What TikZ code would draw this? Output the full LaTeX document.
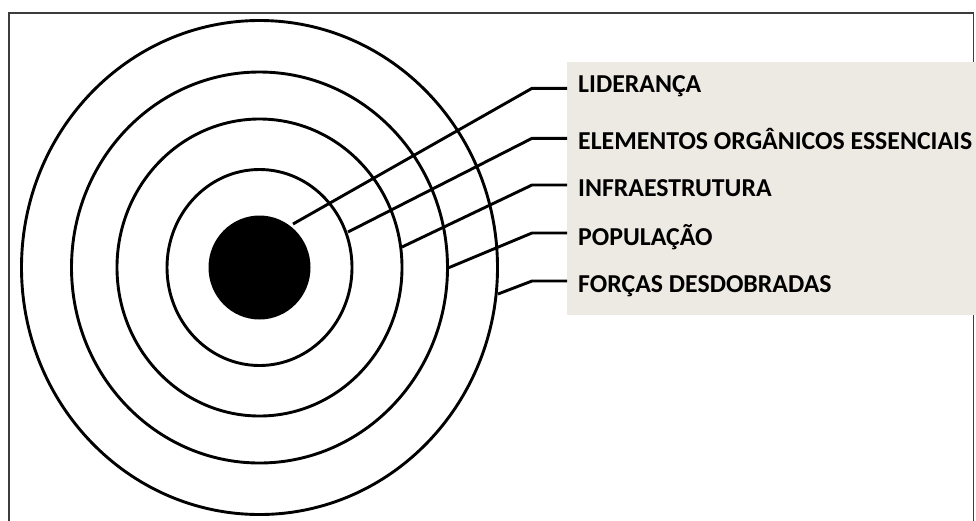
\documentclass[tikz,border=0pt]{standalone}
\usepackage{fontspec}
\setmainfont{Carlito}
\usetikzlibrary{shapes.geometric}
\definecolor{boxgray}{RGB}{236,234,226}
\definecolor{framegray}{RGB}{60,60,60}
\tikzset{
  ring/.style={draw=black, line width=2.9pt},
  conn/.style={draw=black, line width=2.9pt, line join=round},
  lab/.style={anchor=base west, inner sep=0pt, font=\fontsize{25.8}{28}\selectfont\bfseries, text=black},
}
\begin{document}
\begin{tikzpicture}[x=1pt,y=-1pt]
\useasboundingbox (0,0) rectangle (976,520);
% frame
\draw[framegray, line width=1.6pt] (9,530) -- (9,13) -- (973.5,13) -- (973.5,530);
% label box
\node[fill=boxgray, anchor=north west, minimum width=420pt, minimum height=253pt, inner sep=0pt] (box) at (567,62) {};
% rings
\coordinate (c) at (259.5,267.5);
\fill[black] (c) ellipse [x radius=51pt, y radius=52pt];
\draw[ring] (c) ellipse [x radius=92.5pt, y radius=98pt];
\draw[ring] (c) ellipse [x radius=142.5pt, y radius=148.5pt];
\draw[ring] (c) ellipse [x radius=188pt, y radius=195.5pt];
\draw[ring] (c) ellipse [x radius=238pt, y radius=247pt];
% start points
\coordinate (s1) at (293,224);
\coordinate (s2) at (348,232);
\coordinate (s3) at (402,247);
\coordinate (s4) at (448,268);
\coordinate (s5) at (498,294);
% labels
\node[lab] (l1) at (578,92.7) {LIDERANÇA};
\node[lab] (l2) at (578,149.3) {ELEMENTOS ORGÂNICOS ESSENCIAIS};
\node[lab] (l3) at (578,196.7) {INFRAESTRUTURA};
\node[lab] (l4) at (578,245) {POPULAÇÃO};
\node[lab] (l5) at (578,292.7) {FORÇAS DESDOBRADAS};
% bend coordinates and ends
\coordinate (e1) at (567,88.3);
\coordinate (e2) at (567,138.3);
\coordinate (e3) at (567,185);
\coordinate (e4) at (567,233);
\coordinate (e5) at (567,281);
\draw[conn] (s1) -- ([xshift=-35pt]e1) -- (e1);
\draw[conn] (s2) -- ([xshift=-35pt]e2) -- (e2);
\draw[conn] (s3) -- ([xshift=-35pt]e3) -- (e3);
\draw[conn] (s4) -- ([xshift=-35pt]e4) -- (e4);
\draw[conn] (s5) -- ([xshift=-35pt]e5) -- (e5);
\end{tikzpicture}
\end{document}
